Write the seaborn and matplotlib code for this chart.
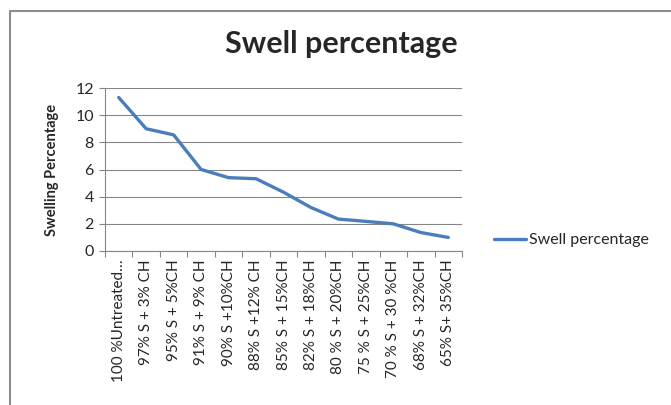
import matplotlib
matplotlib.use("Agg")
import matplotlib.pyplot as plt
import seaborn as sns
import pandas as pd
from matplotlib.lines import Line2D

categories = ["100 %Untreated…", "97% S + 3% CH", "95% S + 5%CH", "91% S + 9% CH",
              "90% S +10%CH", "88% S +12% CH", "85% S + 15%CH", "82% S + 18%CH",
              "80 % S + 20%CH", "75 % S + 25%CH", "70 % S + 30 %CH", "68% S + 32%CH",
              "65% S+ 35%CH"]
values = [11.3, 9.0, 8.55, 6.0, 5.4, 5.32, 4.33, 3.2, 2.35, 2.18, 2.0, 1.36, 1.0]
yticks = [0, 2, 4, 6, 8, 10, 12]
series_name = "Swell percentage"

sns.set_theme(style="white")
plt.rcParams['font.family'] = ['Lato', 'DejaVu Sans']

df = pd.DataFrame({"cat": categories, "val": values, "pos": range(len(categories))})

fig = plt.figure(figsize=(6.71, 4.05), dpi=100)
ax = fig.add_axes([105/671, 1 - 251/405, (462 - 105)/671, (251 - 88)/405])

sns.lineplot(data=df, x="pos", y="val", ax=ax, color="#4A7EBB", linewidth=2.4,
             label=series_name, legend=False)

ax.set_xlim(-0.5, len(categories) - 0.5)
ax.set_ylim(0, 12)
ax.set_yticks(yticks)
ax.set_yticklabels([str(t) for t in yticks], fontsize=11.5)
ax.set_xticks(range(len(categories)))
ax.set_xticklabels(categories, rotation=90, fontsize=11)
ax.tick_params(axis="x", length=0, pad=6)
ax.tick_params(axis="y", length=4, width=0.8, color="#868686", direction="out", pad=4, left=True)
ax.set_xticks([i - 0.5 for i in range(len(categories) + 1)], minor=True)
ax.tick_params(axis="x", which="minor", length=4, width=0.8, color="#868686", direction="out", bottom=True)

ax.grid(axis="y", color="#868686", linewidth=0.8)
ax.set_axisbelow(True)
for s in ["top", "right"]:
    ax.spines[s].set_visible(False)
for s in ["left", "bottom"]:
    ax.spines[s].set_color("#868686")
    ax.spines[s].set_linewidth(0.8)

ax.set_xlabel("")
ax.set_ylabel("Swelling Percentage", fontsize=10.5, fontweight="bold", labelpad=12)

fig.text(341/671, 1 - 44/405, "Swell percentage", ha="center", va="center",
         fontsize=22, fontweight="bold")

handle = Line2D([0], [0], color="#4A7EBB", linewidth=2.4)
fig.legend([handle], [series_name], loc="center left", bbox_to_anchor=(480/671, 1 - 240/405),
           frameon=False, fontsize=11.5, handlelength=2.0, handletextpad=0.15)

# chart border (left and top lines)
fig.add_artist(Line2D([9.5/671, 9.5/671, 1.0], [0.0, 1 - 10.5/405, 1 - 10.5/405],
                      transform=fig.transFigure, color="#8C8C8C", linewidth=1.5))

fig.savefig("out.png", dpi=100)
